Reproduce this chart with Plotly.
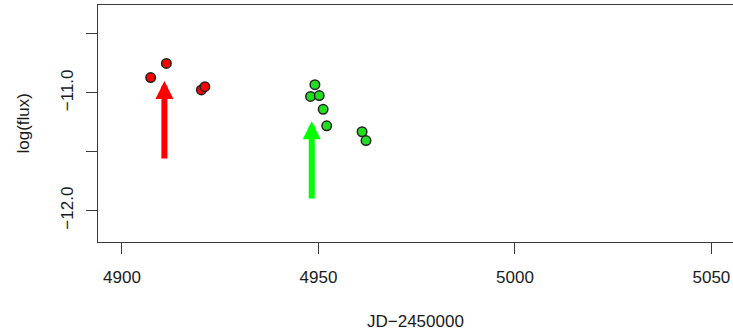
import plotly.graph_objects as go

# Data
red_x = [4907.3, 4911.3, 4920.2, 4921.1]
red_y = [-10.87, -10.75, -10.975, -10.947]
green_x = [4949.1, 4948.0, 4950.2, 4951.2, 4952.1, 4961.1, 4962.1]
green_y = [-10.93, -11.03, -11.023, -11.14, -11.28, -11.33, -11.405]

# Arrows: (x, tail y, tip y)
red_arrow = (4910.8, -11.57, -10.90)
green_arrow = (4948.3, -11.91, -11.24)

x_ticks = [4900, 4950, 5000, 5050]
x_ticklabels = ["4900", "4950", "5000", "5050"]
y_ticks = [-10.5, -11.0, -11.5, -12.0]
y_ticklabels = ["", "\u221211.0", "", "\u221212.0"]

x_range = [4893.9, 5055.5]
y_range = [-12.266, -10.254]

FONT = "Liberation Sans, Arial, sans-serif"
TXT = "#1a1a1a"
AX = "#3a3a3a"

fig = go.Figure()
fig.add_trace(go.Scatter(
    x=red_x, y=red_y, mode="markers",
    marker=dict(size=9.5, color="#FF0000", line=dict(color="#222222", width=1.5)),
    showlegend=False, hoverinfo="skip"))
fig.add_trace(go.Scatter(
    x=green_x, y=green_y, mode="markers",
    marker=dict(size=9.5, color="#22DD22", line=dict(color="#222222", width=1.5)),
    showlegend=False, hoverinfo="skip"))

for (ax_x, tail, tip), col in [(red_arrow, "#FF0000"), (green_arrow, "#00FF00")]:
    fig.add_annotation(
        x=ax_x, y=tip, ax=ax_x, ay=tail, xref="x", yref="y", axref="x", ayref="y",
        text="", showarrow=True, arrowhead=2, arrowwidth=6, arrowsize=0.6,
        arrowcolor=col, standoff=0, startstandoff=0)

fig.add_annotation(
    text="JD\u22122450000", xref="paper", yref="paper", x=0.5, y=0,
    yshift=-79, xanchor="center", yanchor="middle", showarrow=False,
    font=dict(family=FONT, size=17, color=TXT))
fig.add_annotation(
    text="log(flux)", xref="paper", yref="paper", x=0, y=0.5,
    xshift=-75, xanchor="center", yanchor="middle", textangle=-90,
    showarrow=False, font=dict(family=FONT, size=17, color=TXT))

fig.update_xaxes(
    range=x_range, tickvals=x_ticks, ticktext=x_ticklabels,
    ticks="outside", ticklen=11, tickwidth=1.3, tickcolor=AX,
    showline=True, linecolor=AX, linewidth=1.3, mirror=True, automargin=False,
    showgrid=False, zeroline=False, ticklabelstandoff=8,
    tickfont=dict(family=FONT, size=17, color=TXT))
fig.update_yaxes(
    range=y_range, tickvals=y_ticks, ticktext=y_ticklabels,
    ticks="outside", ticklen=11, tickwidth=1.3, tickcolor=AX,
    showline=True, linecolor=AX, linewidth=1.3, mirror=True, automargin=False,
    showgrid=False, zeroline=False, tickangle=-90, ticklabelstandoff=6,
    tickfont=dict(family=FONT, size=17, color=TXT))

fig.update_layout(
    width=733, height=331,
    margin=dict(l=98, r=0, t=5, b=89),
    plot_bgcolor="white", paper_bgcolor="white",
    showlegend=False)

fig.write_html("out.html",
               config={"displayModeBar": False},
               post_script="document.body.style.margin='0';document.body.style.overflow='hidden';")
